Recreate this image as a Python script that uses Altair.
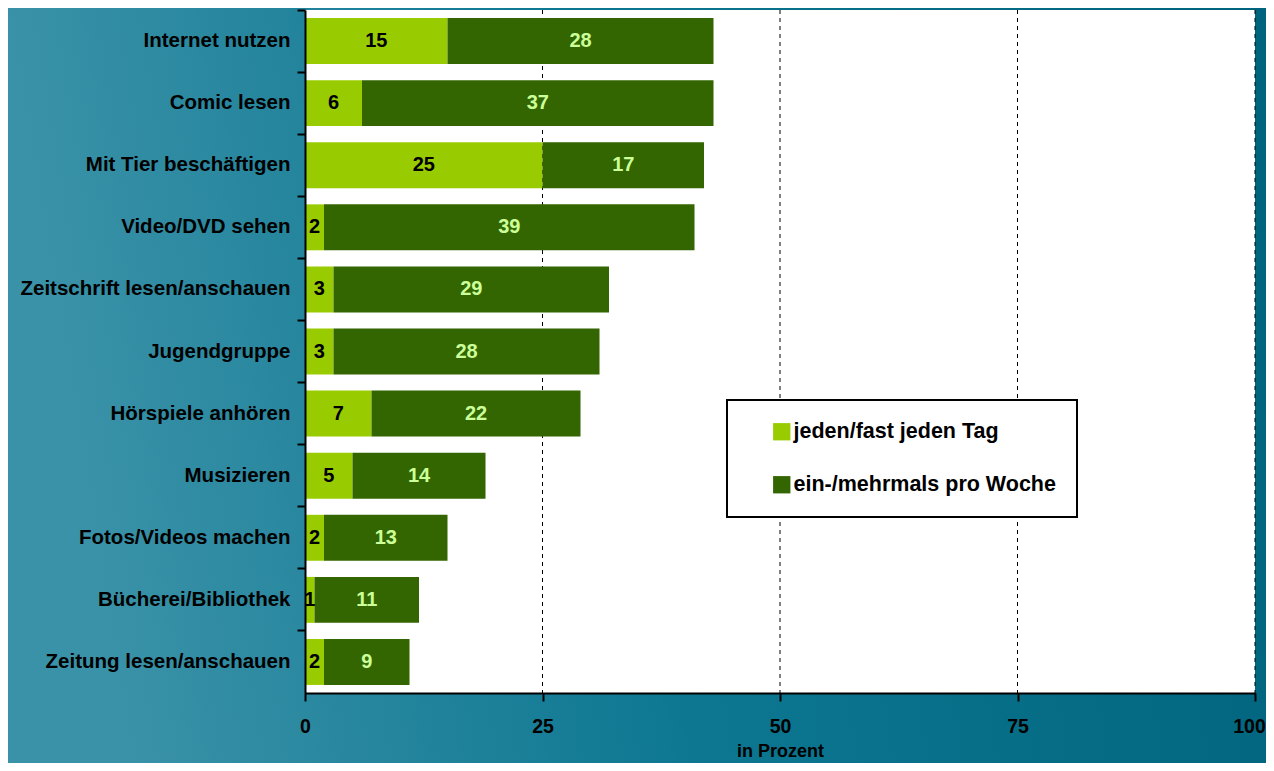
import altair as alt
import pandas as pd

categories = ["Internet nutzen", "Comic lesen", "Mit Tier beschäftigen", "Video/DVD sehen",
              "Zeitschrift lesen/anschauen", "Jugendgruppe", "Hörspiele anhören", "Musizieren",
              "Fotos/Videos machen", "Bücherei/Bibliothek", "Zeitung lesen/anschauen"]
daily = [15, 6, 25, 2, 3, 3, 7, 5, 2, 1, 2]
weekly = [28, 37, 17, 39, 29, 28, 22, 14, 13, 11, 9]
series = ["jeden/fast jeden Tag", "ein-/mehrmals pro Woche"]
colors = ["#99cc00", "#336600"]
text_colors = ["#000000", "#ccff99"]
x_ticks = [0, 25, 50, 75, 100]

rows = []
for c, d, w in zip(categories, daily, weekly):
    rows.append({"cat": c, "series": series[0], "order": 0, "value": d, "start": 0, "end": d,
                 "mid": d / 2, "tcol": text_colors[0]})
    rows.append({"cat": c, "series": series[1], "order": 1, "value": w, "start": d, "end": d + w,
                 "mid": d + w / 2, "tcol": text_colors[1]})
df = pd.DataFrame(rows)

W, H = 950, 683
PL, PT, PR, PB = 297, 2, 11, 70
FONT = "Liberation Sans"

bg = alt.Chart(pd.DataFrame({"a": [0]})).mark_rect(
    fill=alt.LinearGradient(
        gradient="linear",
        stops=[alt.GradientStop(color="#3a92a8", offset=0),
               alt.GradientStop(color="#0d7791", offset=0.45),
               alt.GradientStop(color="#00637d", offset=1)],
        x1=0, y1=0.1, x2=1, y2=0),
).encode(x=alt.value(-PL), x2=alt.value(W + PR), y=alt.value(-PT), y2=alt.value(H + PB))

white = alt.Chart(pd.DataFrame({"a": [0]})).mark_rect(fill="white").encode(
    x=alt.value(0), x2=alt.value(W), y=alt.value(0), y2=alt.value(H))

grid = alt.Chart(pd.DataFrame({"g": x_ticks[1:]})).mark_rule(
    color="black", strokeDash=[4, 4], strokeWidth=1
).encode(x=alt.X("g:Q", scale=alt.Scale(domain=[0, 100])))

yenc = alt.Y("cat:N", sort=categories, title=None,
             scale=alt.Scale(paddingInner=0, paddingOuter=0),
             axis=alt.Axis(bandPosition=0, labelFont=FONT, labelFontSize=20.5,
                           labelFontWeight="bold", labelColor="black", labelPadding=7,
                           tickColor="black", tickSize=8, tickWidth=2,
                           domainColor="black", domainWidth=2, zindex=1, labelLimit=400))
xenc = alt.X("start:Q", scale=alt.Scale(domain=[0, 100]), title="in Prozent",
             axis=alt.Axis(values=x_ticks, grid=False, labelFont=FONT, labelFontSize=19.5,
                           labelFontWeight="bold", labelColor="black", labelPadding=16,
                           labelOffset={"condition": {"test": "datum.value == 100", "value": -6},
                                        "value": 0},
                           tickColor="black", tickSize=8, tickWidth=2,
                           domainColor="black", domainWidth=2,
                           titleFont=FONT, titleFontSize=18, titleFontWeight="bold",
                           titleColor="black", titlePadding=7, zindex=1, labelFlush=False))

bars = alt.Chart(df).mark_bar(height=alt.RelativeBandSize(0.74)).encode(
    y=yenc,
    x=xenc,
    x2="end:Q",
    color=alt.Color("series:N", scale=alt.Scale(domain=series, range=colors),
                    legend=alt.Legend(title=None, orient="none", legendX=422, legendY=390,
                                      fillColor="white", strokeColor="black",
                                      padding=21, symbolType="square", symbolSize=300,
                                      symbolOffset=23, symbolStrokeWidth=0, labelOffset=1,
                                      rowPadding=30, labelFont=FONT, labelFontSize=21.5,
                                      labelFontWeight="bold", labelColor="black",
                                      labelLimit=400, zindex=1)),
)

labels = alt.Chart(df).mark_text(font=FONT, fontSize=20, fontWeight="bold",
                                 align="center", baseline="middle").encode(
    y=alt.Y("cat:N", sort=categories),
    x=alt.X("mid:Q"),
    text=alt.Text("value:Q"),
    color=alt.Color("tcol:N", scale=None),
)

chart = alt.layer(bg, white, grid, bars, labels).properties(
    width=W, height=H,
    autosize=alt.AutoSizeParams(type="none"),
    padding={"left": PL, "top": PT, "right": PR, "bottom": PB},
).configure_view(stroke=None, fill=None).configure_legend(strokeWidth=2)

chart.save("out.html", embed_options={"renderer": "svg", "actions": False})
